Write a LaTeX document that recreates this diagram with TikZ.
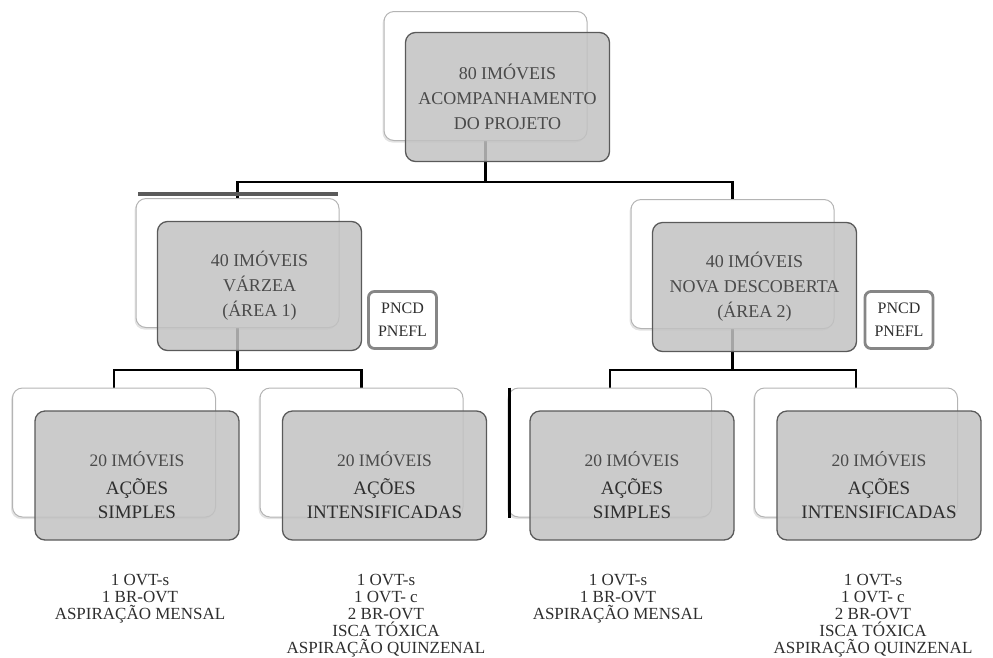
\documentclass[tikz,border=0pt]{standalone}
\usepackage{fontspec}
\setmainfont{Liberation Serif}
\usetikzlibrary{positioning,calc,shadows,backgrounds}
\definecolor{boxgray}{HTML}{C2C2C2}
\definecolor{edgegray}{HTML}{5A5A5A}
\definecolor{backedge}{HTML}{B4B4B4}
\definecolor{textgray}{HTML}{4A4A4A}
\definecolor{listgray}{HTML}{2E2E2E}

\tikzset{
  backbox/.style={draw=backedge, line width=1pt, fill=white, rounded corners=10pt,
    minimum width=203pt, minimum height=129pt,
    drop shadow={opacity=0.22, shadow xshift=-1.5pt, shadow yshift=-2pt}},
  frontbox/.style={draw=edgegray, line width=1.3pt, fill=boxgray, fill opacity=0.85,
    text opacity=1, rounded corners=10pt, minimum width=204pt, minimum height=129pt,
    align=center, text=textgray, font=\fontsize{18}{25}\selectfont},
  boxtext/.style={align=center, text=listgray, font=\fontsize{19}{24}\selectfont, inner sep=0pt},
  tagbox/.style={draw=gray!95, line width=2.8pt, fill=white, rounded corners=6pt,
    minimum width=68pt, minimum height=57pt, inner sep=1pt,
    align=center, text=listgray, font=\fontsize{16}{23}\selectfont},
  listtext/.style={align=center, text=listgray, font=\fontsize{17}{17}\selectfont, inner sep=0pt},
  link/.style={line width=2.6pt, black},
}

\begin{document}
\begin{tikzpicture}[x=1pt, y=-1pt]
  \useasboundingbox (0,0) rectangle (993,657);

  % back boxes
  \node[backbox] (topback) at (485.5,76) {};
  \node[backbox] (leftback) at (237.5,263) {};
  \node[backbox] (rightback) at (732.5,264) {};
  \node[backbox] (b1back) at (114,452.5) {};
  \node[backbox] (b2back) at (361.5,452.5) {};
  \node[backbox] (b3back) at (610,452.5) {};
  \node[backbox] (b4back) at (856,452.5) {};

  % connectors
  \coordinate (split1) at (485.5,182);
  \coordinate (split2) at (237.5,370);
  \coordinate (split3) at (732.5,370);
  \begin{scope}[on background layer]
    \draw[link] (topback.south) -- (split1);
    \draw[link] (leftback.north) |- (split1) -| (rightback.north);
    \draw[link] (leftback.south) -- (split2);
    \draw[link] (b1back.north) |- (split2) -| (b2back.north);
    \draw[link] (rightback.south) -- (split3);
    \draw[link] (b3back.north) |- (split3) -| (b4back.north);
  \end{scope}
  \draw[edgegray, line width=3.5pt] (138,194) -- (338,194);
  \draw[link, line width=2.4pt] ($(b3back.north west)+(1.5,0)$) -- ($(b3back.south west)+(1.5,0)$);

  % front boxes
  \node[frontbox] (topfront) at ($(topback)+(22,21)$) {80 IMÓVEIS\\ACOMPANHAMENTO\\DO PROJETO};
  \node[frontbox] (leftfront) at ($(leftback)+(22,23)$) {40 IMÓVEIS\\VÁRZEA\\(ÁREA 1)};
  \node[frontbox] (rightfront) at ($(rightback)+(22,23)$) {40 IMÓVEIS\\NOVA DESCOBERTA\\(ÁREA 2)};
  \node[frontbox] (b1front) at ($(b1back)+(23,23)$) {};
  \node[frontbox] (b2front) at ($(b2back)+(23,23)$) {};
  \node[frontbox] (b3front) at ($(b3back)+(22,23)$) {};
  \node[frontbox] (b4front) at ($(b4back)+(23,23)$) {};

  \node[boxtext] (b1text) at ($(b1front)+(0,10)$) {{\color{textgray}\fontsize{17.5}{24}\selectfont 20 IMÓVEIS}\\[4pt]AÇÕES\\SIMPLES};
  \node[boxtext] (b2text) at ($(b2front)+(0,10)$) {{\color{textgray}\fontsize{17.5}{24}\selectfont 20 IMÓVEIS}\\[4pt]AÇÕES\\INTENSIFICADAS};
  \node[boxtext] (b3text) at ($(b3front)+(0,10)$) {{\color{textgray}\fontsize{17.5}{24}\selectfont 20 IMÓVEIS}\\[4pt]AÇÕES\\SIMPLES};
  \node[boxtext] (b4text) at ($(b4front)+(0,10)$) {{\color{textgray}\fontsize{17.5}{24}\selectfont 20 IMÓVEIS}\\[4pt]AÇÕES\\INTENSIFICADAS};

  % side tags
  \node[tagbox] (tagleft) at (402.5,320) {PNCD\\PNEFL};
  \node[tagbox] (tagright) at (899,320) {PNCD\\PNEFL};

  % action lists
  \node[listtext, anchor=north] (b1list) at (140,574) {1 OVT-s\\1 BR-OVT\\ASPIRAÇÃO MENSAL};
  \node[listtext, anchor=north] (b2list) at (386,574) {1 OVT-s\\1 OVT- c\\2 BR-OVT\\ISCA TÓXICA\\ASPIRAÇÃO QUINZENAL};
  \node[listtext, anchor=north] (b3list) at (618,574) {1 OVT-s\\1 BR-OVT\\ASPIRAÇÃO MENSAL};
  \node[listtext, anchor=north] (b4list) at (873,574) {1 OVT-s\\1 OVT- c\\2 BR-OVT\\ISCA TÓXICA\\ASPIRAÇÃO QUINZENAL};
\end{tikzpicture}
\end{document}
